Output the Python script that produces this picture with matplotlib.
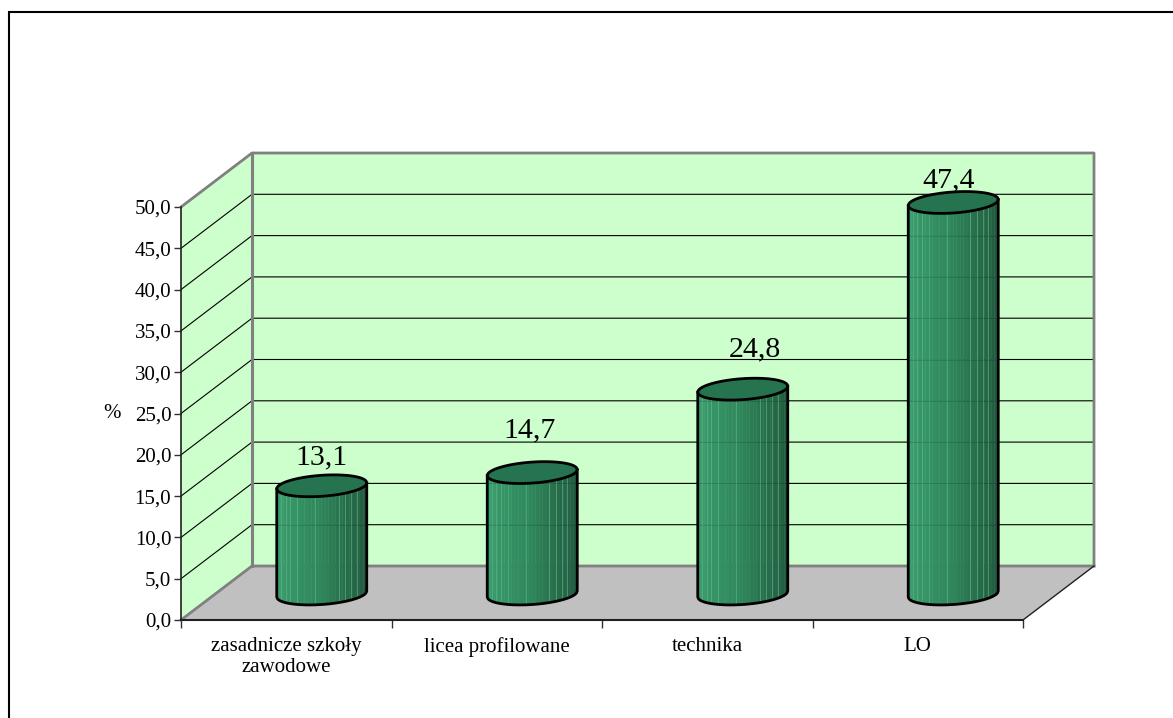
import numpy as np
import matplotlib
matplotlib.use("Agg")
import matplotlib.pyplot as plt
from matplotlib.lines import Line2D

categories = ["zasadnicze szkoły\nzawodowe", "licea profilowane", "technika", "LO"]
values = [13.1, 14.7, 24.8, 47.4]
labels = ["13,1", "14,7", "24,8", "47,4"]
yticks = [0, 5, 10, 15, 20, 25, 30, 35, 40, 45, 50]
ytick_labels = ["0,0", "5,0", "10,0", "15,0", "20,0", "25,0", "30,0", "35,0", "40,0", "45,0", "50,0"]

# manual label shifts in pixels, the labels do not sit evenly above the bars
label_shift_x = [0, -3, 12, -5]
label_shift_y = [28, 42, 40, 22]

plt.rcParams['font.family'] = ['Liberation Serif', 'DejaVu Serif']

W, H = 1173, 718
fig = plt.figure(figsize=(W / 100, H / 100), dpi=100)

# outer frame, only left and top are inside the picture
fig.add_artist(Line2D([9 / W, 9 / W, 1], [0, 1 - 12 / H, 1 - 12 / H], transform=fig.transFigure,
                      color='black', lw=1.5, solid_joinstyle='miter'))

# front plane of the 3d box, x in categories and y in percent
left, right, top, bottom = 181, 1023, 207, 620
ax = fig.add_axes([left / W, 1 - bottom / H, (right - left) / W, (bottom - top) / H])
ax.set_xlim(0, 4)
ax.set_ylim(0, 50)
ax.patch.set_visible(False)
for s in ax.spines.values():
    s.set_visible(False)

# depth of the box converted to data units
px = 4 / (right - left)
py = 50 / (bottom - top)
dx = 71 * px
dy = 54 * py

GRAY = '#808080'
ax.fill([0, dx, dx, 0], [0, dy, 50 + dy, 50], color='#CCFFCC', lw=0, clip_on=False, zorder=1)
ax.fill([dx, 4 + dx, 4 + dx, dx], [dy, dy, 50 + dy, 50 + dy], color='#CCFFCC', lw=0, clip_on=False, zorder=1)
ax.fill([0, 4, 4 + dx, dx], [0, 0, dy, dy], color='#C0C0C0', lw=0, clip_on=False, zorder=1)

for v in yticks[1:]:
    ax.plot([0, dx, 4 + dx], [v, v + dy, v + dy], color='black', lw=0.8, clip_on=False, zorder=2)

ax.plot([0, dx, 4 + dx, 4 + dx], [50, 50 + dy, 50 + dy, dy], color=GRAY, lw=2, clip_on=False, zorder=3)
ax.plot([dx, dx], [dy, 50 + dy], color=GRAY, lw=2.2, clip_on=False, zorder=3)
ax.plot([0, dx, 4 + dx], [0, dy, dy], color=GRAY, lw=2, clip_on=False, zorder=3)
ax.plot([4, 4 + dx], [0, dy], color='#202020', lw=1, clip_on=False, zorder=3)
ax.plot([0, 0], [0, 50], color='#202020', lw=1.2, clip_on=False, zorder=3)
ax.plot([0, 4], [0, 0], color='#202020', lw=1.5, clip_on=False, zorder=3)

# cylinders
half_w = 45 * px
half_h = 10.5 * py
tilt = 3.0 * py
n_strips = 26
left_col = np.array([0x3A, 0x9C, 0x6C]) / 255
mid_col = np.array([0x2E, 0x85, 0x5A]) / 255
right_col = np.array([0x22, 0x5C, 0x40]) / 255
light_stripes = [0.05, 0.10, 0.15, 0.23, 0.43, 0.69, 0.76, 0.83, 0.89]


def lower_edge(x, xc, y):
    u = (x - xc) / half_w
    return y - half_h * np.sqrt(np.clip(1 - u ** 2, 0, 1)) + tilt * u


def upper_edge(x, xc, y):
    u = (x - xc) / half_w
    return y + half_h * np.sqrt(np.clip(1 - u ** 2, 0, 1)) + tilt * u


for i, val in enumerate(values):
    xc = i + 0.5 + dx / 2
    yb = dy / 2 - 1.0 * py
    yt = yb + val

    # side of the cylinder, drawn as narrow strips
    edges = np.linspace(xc - half_w, xc + half_w, n_strips + 1)
    for j in range(n_strips):
        f = j / (n_strips - 1)
        if f < 0.5:
            col = left_col + (mid_col - left_col) * f * 2
        else:
            col = mid_col + (right_col - mid_col) * (f - 0.5) * 2
        xs = np.linspace(edges[j], edges[j + 1], 5)
        poly_x = np.r_[xs, xs[::-1]]
        poly_y = np.r_[lower_edge(xs, xc, yb), lower_edge(xs, xc, yt)[::-1]]
        ax.fill(poly_x, poly_y, color=col, lw=0.3, ec=col, clip_on=False, zorder=4)

    # thin light lines left between the strips
    for f in light_stripes:
        x = xc - half_w + 2 * half_w * f
        ax.plot([x, x], [lower_edge(x, xc, yb), lower_edge(x, xc, yt)], color='#5FB88C', lw=0.6,
                alpha=0.7, clip_on=False, zorder=4.2)

    # grid shows faintly through the side
    for v in yticks[1:]:
        yg = v + dy
        if yg < lower_edge(xc, xc, yt) and yg > yb:
            ax.plot([xc - half_w, xc + half_w], [yg, yg], color='black', lw=0.7, alpha=0.12,
                    clip_on=False, zorder=4.3)

    xs = np.linspace(xc - half_w, xc + half_w, 120)
    # outline of side and base
    ax.plot(np.r_[xc - half_w, xs, xc + half_w],
            np.r_[lower_edge(xc - half_w, xc, yt), lower_edge(xs, xc, yb), lower_edge(xc + half_w, xc, yt)],
            color='black', lw=2, clip_on=False, zorder=5, solid_joinstyle='round')

    # top ellipse
    ax.fill(np.r_[xs, xs[::-1]], np.r_[lower_edge(xs, xc, yt), upper_edge(xs, xc, yt)[::-1]],
            fc='#26734F', ec='black', lw=2, clip_on=False, zorder=6)

    ax.text(xc + label_shift_x[i] * px, yt + label_shift_y[i] * py, labels[i], ha='center', va='center',
            fontsize=21.5, color='black', clip_on=False, zorder=7)

ax.set_xticks(range(5))
ax.set_xticklabels([])
ax.set_xticks(np.arange(4) + 0.5, categories, minor=True, fontsize=15, linespacing=1.2)
ax.tick_params(axis='x', which='major', length=6, width=1, color='#303030')
ax.tick_params(axis='x', which='minor', length=0, pad=12)
ax.set_yticks(yticks, ytick_labels, fontsize=15)
ax.tick_params(axis='y', length=5, width=1, pad=2, color='#303030')
ax.text(-0.33, 25, "%", fontsize=15, ha='center', va='center')

fig.savefig('out.png', dpi=100)
